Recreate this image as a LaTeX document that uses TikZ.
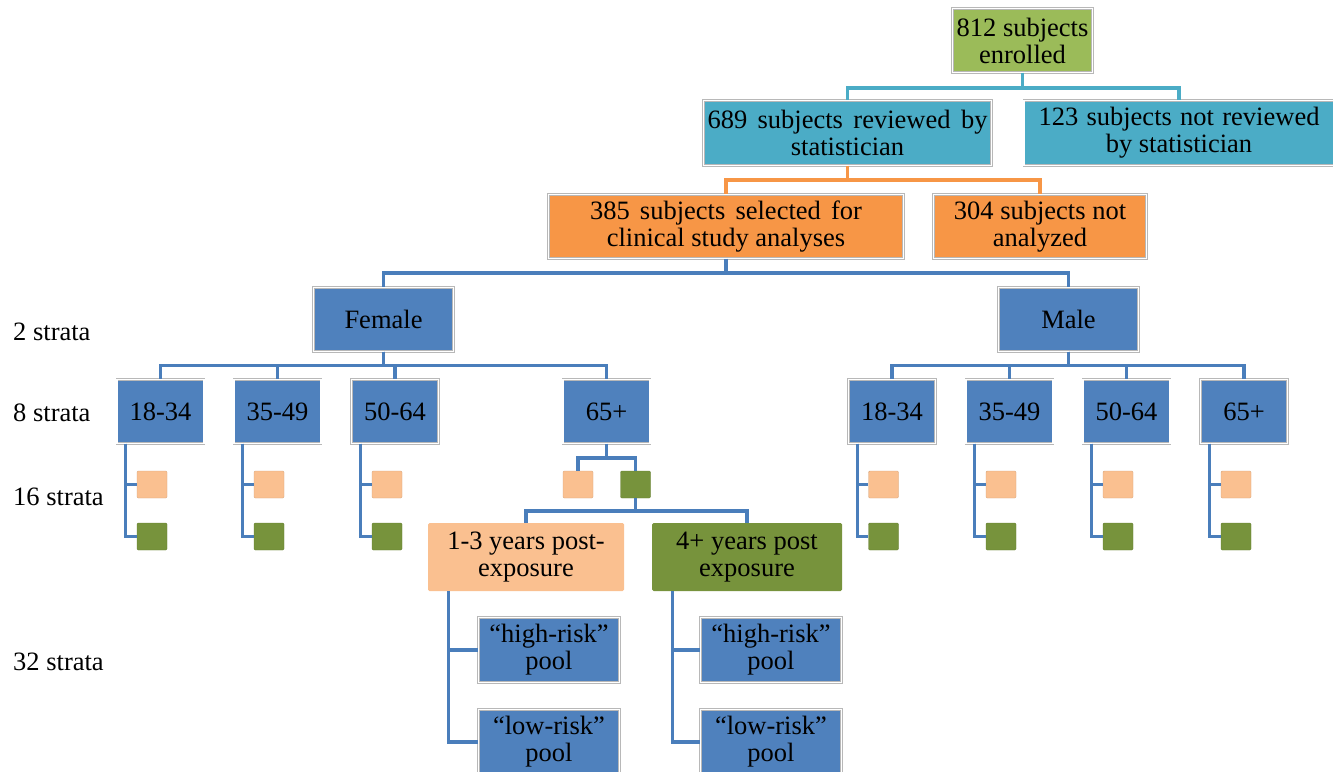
\documentclass[tikz,border=0pt]{standalone}
\usepackage{fontspec}
\setmainfont{Liberation Serif}
\usetikzlibrary{calc}
\definecolor{cBlue}{HTML}{4F81BD}
\definecolor{cTeal}{HTML}{4BACC6}
\definecolor{cOrange}{HTML}{F79646}
\definecolor{cGreen}{HTML}{9BBB59}
\definecolor{cPeach}{HTML}{FAC090}
\definecolor{cOlive}{HTML}{77933C}
\definecolor{cLine}{HTML}{4A7EBB}
\tikzset{
  bx/.style={rectangle, draw=black!28, double=white, double distance=1.6pt, line width=0.45pt,
    inner sep=0pt, align=center, font=\fontsize{26.5}{27}\selectfont, text=black},
  flat/.style={rectangle, rounded corners=1.5pt, inner sep=0pt, align=center,
    font=\fontsize{26.5}{27}\selectfont, text=black},
  sq/.style={rectangle, rounded corners=1.2pt, minimum width=30pt, minimum height=27pt, inner sep=0pt},
  lbl/.style={anchor=west, inner sep=0pt, font=\fontsize{26.5}{27}\selectfont},
  conn/.style={line width=3.1pt, color=cLine, line join=miter},
  tconn/.style={line width=3.1pt, color=cTeal},
  oconn/.style={line width=3.1pt, color=cOrange}
}
\begin{document}
\begin{tikzpicture}[x=1pt,y=-1pt]
\useasboundingbox (0,0) rectangle (1333,771);
% top levels
\node[bx, fill=cGreen, minimum width=140pt, minimum height=64pt] (n812) at (1022.5,40.5) {812 subjects\\enrolled};
\node[bx, fill=cTeal, minimum width=288pt, minimum height=65pt] (n689) at (847.5,133) {\makebox[280pt][s]{689 subjects reviewed by}\\statistician};
\node[bx, fill=cTeal, minimum width=310pt, minimum height=65pt] (n123) at (1179,133) {\makebox[281pt][s]{123 subjects not reviewed}\\by statistician};
\node[bx, fill=cOrange, minimum width=355pt, minimum height=64pt] (n385) at (726,226.5) {\makebox[272pt][s]{385 subjects selected for}\\clinical study analyses};
\node[bx, fill=cOrange, minimum width=213pt, minimum height=64pt] (n304) at (1040,226.5) {304 subjects not\\analyzed};
% sex
\node[bx, fill=cBlue, minimum width=140pt, minimum height=64pt] (fem) at (383.5,319.5) {Female};
\node[bx, fill=cBlue, minimum width=140pt, minimum height=64pt] (mal) at (1068.5,319.5) {Male};
% ages
\foreach \n/\x/\t in {fa1/160.5/18-34, fa2/277.5/35-49, fa3/395/50-64, fa4/606.5/65+,
                      ma1/892/18-34, ma2/1009.5/35-49, ma3/1126.5/50-64, ma4/1244/65+}{
  \node[bx, fill=cBlue, minimum width=87pt, minimum height=64pt] (\n) at (\x,411.5) {\t};
}
% small squares
\foreach \i/\x in {f1/152, f2/269, f3/387, m1/883.5, m2/1001, m3/1118, m4/1236}{
  \node[sq, fill=cPeach, draw=cPeach!85!black, line width=0.4pt] (o\i) at (\x,484.5) {};
  \node[sq, fill=cOlive, draw=cOlive!85!black, line width=0.4pt] (g\i) at (\x,536.5) {};
}
\node[sq, fill=cPeach, draw=cPeach!85!black, line width=0.4pt] (of4) at (578,484.5) {};
\node[sq, fill=cOlive, draw=cOlive!85!black, line width=0.4pt] (gf4) at (635.5,484.5) {};
% post exposure
\node[flat, fill=cPeach, minimum width=196pt, minimum height=68pt] (p13) at (526,557) {1-3 years post-\\exposure};
\node[flat, fill=cOlive, minimum width=190pt, minimum height=68pt] (p4) at (747,557) {4+ years post\\exposure};
% pools
\node[bx, fill=cBlue, minimum width=141pt, minimum height=65pt] (h1) at (549,650) {“high-risk”\\pool};
\node[bx, fill=cBlue, minimum width=141pt, minimum height=65pt] (l1) at (549,742) {“low-risk”\\pool};
\node[bx, fill=cBlue, minimum width=141pt, minimum height=65pt] (h2) at (771,650) {“high-risk”\\pool};
\node[bx, fill=cBlue, minimum width=141pt, minimum height=65pt] (l2) at (771,742) {“low-risk”\\pool};
% strata labels
\node[lbl] (s2) at (13,332) {2 strata};
\node[lbl] (s8) at (13,413) {8 strata};
\node[lbl] (s16) at (13,497) {16 strata};
\node[lbl] (s32) at (13,662) {32 strata};
% connectors
\draw[tconn] (n812.south) -- (n812.south |- 0,88) -| (n689.north);
\draw[tconn] (n812.south |- 0,88) -| (n123.north);
\draw[oconn] (n689.south) -- (n689.south |- 0,180) -| (n385.north);
\draw[oconn] (n689.south |- 0,180) -| (n304.north);
\draw[conn] (n385.south) -- (n385.south |- 0,273) -| (fem.north);
\draw[conn] (n385.south |- 0,273) -| (mal.north);
\foreach \a in {fa1,fa2,fa3,fa4}{
  \draw[conn] (fem.south) -- (fem.south |- 0,365.5) -| (\a.north);
}
\foreach \a in {ma1,ma2,ma3,ma4}{
  \draw[conn] (mal.south) -- (mal.south |- 0,365.5) -| (\a.north);
}
\foreach \a/\i in {fa1/f1,fa2/f2,fa3/f3,ma1/m1,ma2/m2,ma3/m3,ma4/m4}{
  \draw[conn] ($(\a.south west)+(9,0)$) |- (g\i.west);
  \draw[conn] ($(\a.south west)+(9,0)$) |- (o\i.west);
}
\draw[conn] (fa4.south) -- (fa4.south |- 0,458) -| (of4.north);
\draw[conn] (fa4.south |- 0,458) -| (gf4.north);
\draw[conn] (gf4.south) -- (gf4.south |- 0,511) -| (p13.north);
\draw[conn] (gf4.south |- 0,511) -| (p4.north);
\draw[conn] ($(p13.south west)+(21,0)$) |- (l1.west);
\draw[conn] ($(p13.south west)+(21,0)$) |- (h1.west);
\draw[conn] ($(p4.south west)+(21,0)$) |- (l2.west);
\draw[conn] ($(p4.south west)+(21,0)$) |- (h2.west);
\end{tikzpicture}
\end{document}
